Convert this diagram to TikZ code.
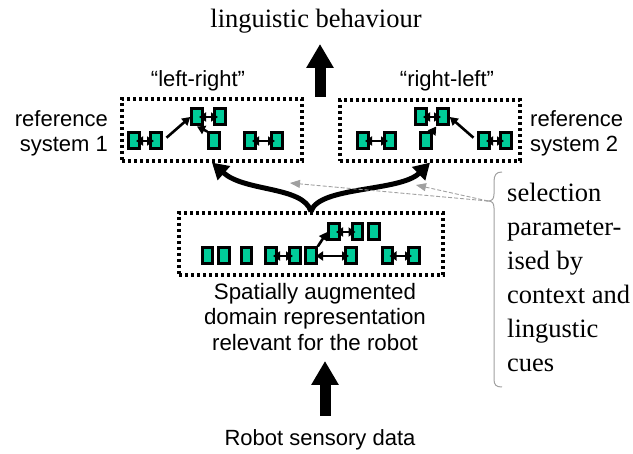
\documentclass[tikz,border=0pt]{standalone}
\usepackage{fontspec}
\setmainfont{Liberation Serif}
\newfontfamily\arialf{Liberation Sans}
\usetikzlibrary{arrows.meta}
\definecolor{tealbox}{RGB}{0,204,153}
\definecolor{gry}{RGB}{160,160,160}
\begin{document}
\begin{tikzpicture}[x=1pt,y=-1pt,
 sq/.style={draw=black, fill=tealbox, line width=3pt, minimum width=10.5pt, minimum height=16pt, inner sep=0pt},
 grp/.style={draw=black, line width=3.2pt, dash pattern=on 3pt off 3pt, inner sep=0pt},
 dbl/.style={line width=2.6pt, {Triangle[length=7pt,width=9pt]}-{Triangle[length=7pt,width=9pt]}, shorten <=2pt, shorten >=2pt},
 arr/.style={line width=2.6pt, -{Triangle[length=8pt,width=9pt]}},
 bigcurve/.style={line width=5pt, -{Triangle[length=16pt,width=18pt]}},
 bigup/.style={line width=11pt, -{Triangle[length=24pt,width=26pt]}},
 sel/.style={draw=gry, line width=0.9pt, dash pattern=on 4pt off 2pt, -{Triangle[length=10pt,width=8pt]}},
 serift/.style={font=\fontsize{26.5}{34}\selectfont, inner sep=0pt},
 sanst/.style={font=\arialf\fontsize{22}{25}\selectfont, inner sep=0pt},
 sanstb/.style={font=\arialf\fontsize{22.3}{25.5}\selectfont, inner sep=0pt}
]
\useasboundingbox (0,0) rectangle (633,454);

% group boxes
\node[grp, minimum width=180pt, minimum height=62pt] (L) at (212,130) {};
\node[grp, minimum width=180pt, minimum height=61pt] (R) at (430,130.5) {};
\node[grp, minimum width=264pt, minimum height=62pt] (B) at (311,244) {};

% left group
\node[sq] (a1) at (134,141) {};
\node[sq] (a2) at (156,141) {};
\node[sq] (a3) at (197,117) {};
\node[sq] (a4) at (220,117) {};
\node[sq] (a5) at (214,141) {};
\node[sq] (a6) at (250,141) {};
\node[sq] (a7) at (277,141) {};
\draw[dbl] (a1.center) -- (a2.center);
\draw[dbl] (a3.center) -- (a4.center);
\draw[dbl] (a6.center) -- (a7.center);
\draw[arr, shorten <=5pt] (a2.east) -- (a3.west);
\draw[arr] (a5.north west) -- (a3.south);

% right group
\node[sq] (c1) at (363,141) {};
\node[sq] (c2) at (390,141) {};
\node[sq] (c3) at (421,117) {};
\node[sq] (c4) at (443,117) {};
\node[sq] (c5) at (426,141) {};
\node[sq] (c6) at (484,141) {};
\node[sq] (c7) at (506,141) {};
\draw[dbl] (c1.center) -- (c2.center);
\draw[dbl] (c3.center) -- (c4.center);
\draw[dbl] (c6.center) -- (c7.center);
\draw[arr] (c5.north east) -- (c4.south west);
\draw[arr, shorten <=5pt] (c6.west) -- (c4.east);

% bottom group
\node[sq] (b1) at (207.5,256) {};
\node[sq] (b2) at (224,256) {};
\node[sq] (b3) at (246.5,256) {};
\node[sq] (b4) at (271,256) {};
\node[sq] (b5) at (295,256) {};
\node[sq] (b6) at (311,256) {};
\node[sq] (b7) at (351,256) {};
\node[sq] (b8) at (387.5,256) {};
\node[sq] (b9) at (414,256) {};
\node[sq] (t1) at (334,232) {};
\node[sq] (t2) at (357.5,232) {};
\node[sq] (t3) at (374,232) {};
\draw[dbl] (b4.center) -- (b5.center);
\draw[dbl, shorten <=5pt] (b6.center) -- (b7.center);
\draw[dbl] (b8.center) -- (b9.center);
\draw[dbl] (t1.center) -- (t2.center);
\draw[arr] (b6.north east) -- (t1.west);

% curved selection arrows
\draw[bigcurve] (B.north) .. controls (303,186) and (245,192) .. (L.south);
\draw[bigcurve] (B.north) .. controls (319,186) and (400,192) .. (R.south);

% texts
\node[serift, anchor=base] (lb) at (316,28) {linguistic behaviour};
\node[sanst, anchor=base] (lr) at (198,87) {“left-right”};
\node[sanst, anchor=base] (rl) at (447,87) {“right-left”};
\node[sanst, align=right, anchor=north east] (rs1) at (108,110) {reference\\system 1};
\node[sanst, align=left, anchor=north west] (rs2) at (530,110) {reference\\system 2};
\node[sanstb, align=center, anchor=north] (sp) at (315,283) {Spatially augmented\\domain representation\\relevant for the robot};
\node[sanst, anchor=base] (rsd) at (320,446) {Robot sensory data};
\node[serift, align=left, anchor=north west] (selt) at (507,183) {selection\\parameter-\\ised by\\context and\\lingustic\\cues};

% big up arrows
\coordinate (u1) at (320,97);
\coordinate (u2) at (320,44);
\draw[bigup] (u1) -- (u2);
\coordinate (d1) at (325,416);
\coordinate (d2) at (325,361);
\draw[bigup] (d1) -- (d2);

% brace
\coordinate (tip) at (488,201);
\draw[gry, line width=1pt] (502,172) .. controls (496,172) and (494,175) .. (494,182) -- (494,194)
  .. controls (494,199) and (492,201) .. (tip)
  .. controls (492,201) and (494,203) .. (494,208) -- (494,379)
  .. controls (494,385) and (496,387) .. (502,387);
\coordinate (g1) at (290,183);
\coordinate (g2) at (416,185);
\draw[sel] (tip) -- (g1);
\draw[sel] (tip) -- (g2);
\end{tikzpicture}
\end{document}
